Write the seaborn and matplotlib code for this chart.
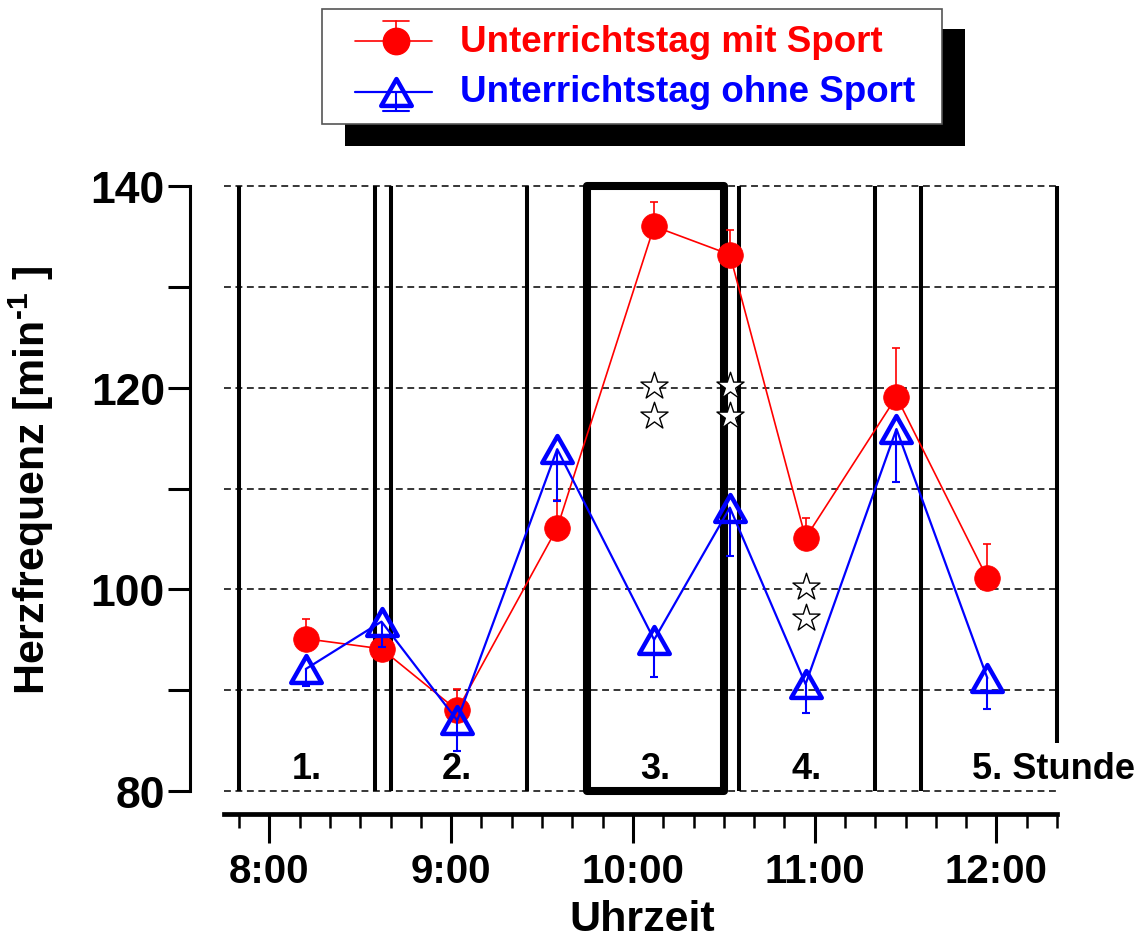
import matplotlib
matplotlib.use('Agg')
import matplotlib.pyplot as plt
import seaborn as sns
import numpy as np
from matplotlib.patches import Rectangle
from matplotlib.path import Path
from matplotlib.ticker import MultipleLocator

# ---------------- data (time = minutes after 8:00) ----------------
times = [12, 37, 62, 95, 127, 152, 177, 207, 237]
hr_sport = [95.1, 94.1, 88.0, 106.1, 136.0, 133.2, 105.1, 119.1, 101.1]
err_sport = [2.0, 1.0, 2.1, 2.8, 2.4, 2.4, 2.0, 4.8, 3.4]
hr_nosport = [92.1, 96.8, 87.0, 113.9, 95.0, 108.1, 90.6, 115.9, 91.2]
err_nosport = [1.7, 2.5, 3.0, 5.1, 3.7, 4.8, 2.9, 5.3, 3.1]
star_times = [127, 127, 152, 152, 177, 177]
star_vals = [120.2, 117.2, 120.2, 117.2, 100.2, 97.2]
period_bounds = [-10, 35, 40, 85, 155, 200, 215]
end_bound = 260
end_line_bottom = 84.8
box_start, box_end = 105, 150
period_labels = ['1.', '2.', '3.', '4.', '5. Stunde']
period_label_x = [12.5, 62, 127.5, 177.5, 232]
period_label_y = 82.2
hour_ticks = [0, 60, 120, 180, 240]
hour_labels = ['8:00', '9:00', '10:00', '11:00', '12:00']
y_ticks = [80, 90, 100, 110, 120, 130, 140]
legend_labels = ['Unterrichtstag mit Sport', 'Unterrichtstag ohne Sport']

RED = '#FF0000'
BLUE = '#0000FF'

sns.set_theme(style='ticks')
plt.rcParams['font.family'] = ['Liberation Sans', 'DejaVu Sans']
plt.rcParams['font.weight'] = 'bold'
plt.rcParams['mathtext.fontset'] = 'custom'
plt.rcParams['mathtext.rm'] = 'Liberation Sans:bold'
plt.rcParams['mathtext.bf'] = 'Liberation Sans:bold'
plt.rcParams['mathtext.it'] = 'Liberation Sans:bold'
plt.rcParams['axes.edgecolor'] = 'black'
plt.rcParams['axes.labelcolor'] = 'black'
plt.rcParams['xtick.color'] = 'black'
plt.rcParams['ytick.color'] = 'black'
plt.rcParams['xtick.labelcolor'] = 'black'
plt.rcParams['ytick.labelcolor'] = 'black'
plt.rcParams['text.color'] = 'black'

W, H = 1144, 945
fig = plt.figure(figsize=(W / 100, H / 100), dpi=100)
fig.patch.set_facecolor('white')
ax = fig.add_axes([224 / W, 1 - 792 / H, 833 / W, 605 / H])
ax.set_facecolor('none')
ax.set_xlim(-15, 260)
ax.set_ylim(80, 140)

# dashed horizontal grid
for yv in y_ticks:
    ax.axhline(yv, color='black', lw=1.1, ls=(0, (4.5, 3)), zorder=1, clip_on=False)

# period boundaries
ax.vlines(period_bounds, 80, 140, colors='black', lw=2.9, zorder=3, clip_on=False)
ax.vlines([end_bound], end_line_bottom, 140, colors='black', lw=2.9, zorder=3, clip_on=False)
ax.add_patch(Rectangle((box_start, 80), box_end - box_start, 60, fill=False,
                       ec='black', lw=5.8, joinstyle='round', zorder=3, clip_on=False))

# triangle marker (slightly wider than tall)
tri = Path([(0, 0.88), (-1, -0.88), (1, -0.88), (0, 0.88)],
           [Path.MOVETO, Path.LINETO, Path.LINETO, Path.CLOSEPOLY])

# error bars (one-sided)
eb_r = ax.errorbar(times, hr_sport, yerr=[np.zeros(len(err_sport)), err_sport], fmt='none',
                   ecolor=RED, elinewidth=1.2, capsize=3.2, capthick=1.2, zorder=4)
eb_r[1][0].set_visible(False)
eb_b = ax.errorbar(times, hr_nosport, yerr=[err_nosport, np.zeros(len(err_nosport))], fmt='none',
                   ecolor=BLUE, elinewidth=1.5, capsize=3.2, capthick=1.5, zorder=6)
eb_b[1][1].set_visible(False)

sns.lineplot(x=times, y=hr_sport, ax=ax, color=RED, lw=1.2, marker='o', markersize=18.5,
             mec=RED, mew=0.5, mfc=RED, zorder=5, legend=False)
sns.lineplot(x=times, y=hr_nosport, ax=ax, color=BLUE, lw=1.6, marker=tri, markersize=22,
             mec=BLUE, mew=3.2, mfc='none', zorder=6, legend=False)

sns.scatterplot(x=star_times, y=star_vals, ax=ax, marker='*', s=420, color='white',
                edgecolor='black', linewidth=1.0, zorder=7, legend=False)

for lab, xv in zip(period_labels, period_label_x):
    ax.text(xv, period_label_y, lab, ha='left' if len(lab) > 3 else 'center', va='center',
            fontsize=26, fontweight='bold', zorder=8, clip_on=False)

# axes styling
for s in ['top', 'right']:
    ax.spines[s].set_visible(False)
ax.spines['left'].set_position(('outward', 24.5))
ax.spines['bottom'].set_position(('outward', 16.6))
ax.spines['left'].set_linewidth(2.2)
ax.spines['bottom'].set_linewidth(3.4)

ax.set_yticks(y_ticks)
ax.set_yticklabels([str(v) if v % 20 == 0 else '' for v in y_ticks])
ax.tick_params(axis='y', length=16, width=2.2, labelsize=32, pad=2, direction='out')
ax.set_xticks(hour_ticks)
ax.set_xticklabels(hour_labels)
ax.xaxis.set_minor_locator(MultipleLocator(10))
ax.tick_params(axis='x', which='major', length=21, width=2.2, labelsize=29, pad=6, direction='out')
ax.tick_params(axis='x', which='minor', length=10, width=1.8, direction='out')
for lbl in ax.get_xticklabels() + ax.get_yticklabels():
    lbl.set_weight('bold')
    lbl.set_color('black')

ax.set_ylabel('Herzfrequenz [min$^{\u2010 1}$ ]', fontsize=31, fontweight='bold')
ax.yaxis.set_label_coords(-0.202, 0.515)
ax.set_xlabel('Uhrzeit', fontsize=31, fontweight='bold')
ax.xaxis.set_label_coords(0.502, -0.178)

# ---------------- legend (drawn in pixel coordinates) ----------------
lax = fig.add_axes([0, 0, 1, 1], zorder=10)
lax.set_xlim(0, W)
lax.set_ylim(H, 0)
lax.axis('off')
lax.add_patch(Rectangle((345, 30), 620, 117, fc='black', ec='none'))
lax.add_patch(Rectangle((322, 10), 620, 115, fc='white', ec='#555555', lw=1.2))
# red handle
lax.plot([355, 432], [42, 42], color=RED, lw=1.2)
lax.plot([396, 396], [42, 22], color=RED, lw=1.2)
lax.plot([383, 409], [22, 22], color=RED, lw=1.2)
lax.plot([396], [42], marker='o', ms=19, color=RED, mec=RED)
# blue handle
lax.plot([355, 432], [93, 93], color=BLUE, lw=1.6)
lax.plot([396, 396], [93, 112], color=BLUE, lw=1.5)
lax.plot([383, 409], [112, 112], color=BLUE, lw=1.5)
lax.plot([396], [93], marker=tri, ms=22, mfc='none', mec=BLUE, mew=3.2)
lax.text(460, 42, legend_labels[0], color=RED, fontsize=26.5, fontweight='bold', va='center', ha='left')
lax.text(460, 93, legend_labels[1], color=BLUE, fontsize=26.5, fontweight='bold', va='center', ha='left')

fig.savefig('out.png', dpi=100, facecolor='white')
